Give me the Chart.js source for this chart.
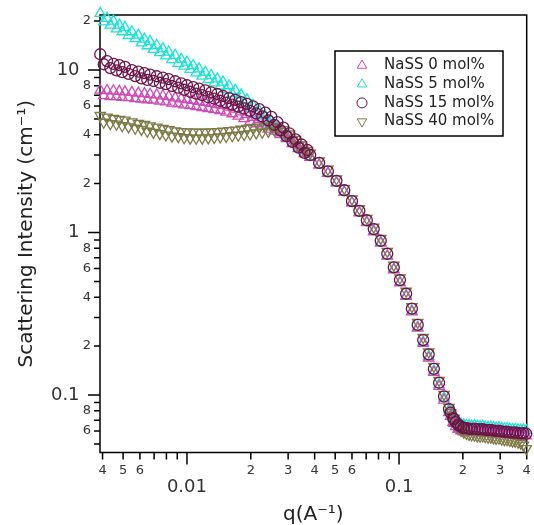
<!DOCTYPE html>
<html lang="en">
<head>
<meta charset="UTF-8">
<title>SANS intensity</title>
<script src="https://cdn.jsdelivr.net/npm/chart.js"></script>
<style>
  html, body { margin: 0; padding: 0; background: #fff; }
  #wrap { width: 534px; height: 525px; }
</style>
</head>
<body>
<div id="wrap"><canvas id="sans" width="534" height="525"></canvas></div>
<script>
// q values (A^-1): low-q, mid-q and high-q detector ranges
const q = [
  0.0039, 0.00405, 0.0042, 0.00435, 0.0045, 0.00465, 0.0048, 0.00495, 0.0051, 0.0053,
  0.0055, 0.0057, 0.0059, 0.0061, 0.0063, 0.0065, 0.0067, 0.00695, 0.0072, 0.00745,
  0.0077, 0.00795, 0.0082, 0.0085, 0.0088, 0.0091, 0.0094, 0.0097, 0.0100, 0.01035,
  0.0107, 0.01105, 0.0114, 0.0118, 0.0122, 0.0126, 0.0130, 0.01345, 0.0139, 0.01435,
  0.0148, 0.0153, 0.0158, 0.01635, 0.0169, 0.01745, 0.0180, 0.0186, 0.0192, 0.01985,
  0.0205, 0.0212, 0.0219, 0.02265, 0.0234, 0.0242, 0.0250, 0.02585, 0.0267, 0.0276,
  0.0285, 0.02945, 0.0304, 0.03145, 0.0325, 0.0336, 0.0347, 0.03585, 0.0370,
  0.0381, 0.0420, 0.0462, 0.0507, 0.0552, 0.0600, 0.0650, 0.0705, 0.0760, 0.0820,
  0.0880, 0.0945, 0.1010, 0.1080, 0.1150, 0.1225, 0.1300, 0.1380, 0.1460, 0.1545,
  0.1630, 0.1720, 0.1815, 0.1910, 0.2010,
  0.175, 0.180, 0.185, 0.190, 0.196, 0.202, 0.208, 0.214, 0.220, 0.227,
  0.234, 0.241, 0.248, 0.255, 0.263, 0.271, 0.279, 0.287, 0.296, 0.305,
  0.314, 0.323, 0.333, 0.343, 0.353, 0.364, 0.375, 0.386, 0.398
];

const nass0 = [
  7.51, 6.96, 7.48, 6.85, 7.45, 6.86, 7.39, 6.78, 7.34, 6.76,
  7.28, 6.67, 7.21, 6.63, 7.16, 6.56, 7.09, 6.53, 7.03, 6.44,
  6.94, 6.36, 6.85, 6.26, 6.74, 6.18, 6.65, 6.11, 6.57, 6.03,
  6.5, 5.95, 6.42, 5.88, 6.32, 5.79, 6.23, 5.71, 6.13, 5.62,
  6.03, 5.51, 5.91, 5.38, 5.74, 5.2, 5.53, 5.02, 5.34, 4.82,
  5.12, 4.67, 4.97, 4.5, 4.78, 4.33, 4.53, 4.21, 4.33, 4.01,
  4.1, 3.78, 3.84, 3.52, 3.57, 3.28, 3.33, 3.05, 3.1,
  2.9, 2.6, 2.31, 2.02, 1.77, 1.52, 1.32, 1.15, 1.01, 0.86,
  0.715, 0.59, 0.49, 0.405, 0.325, 0.258, 0.208, 0.169, 0.138, 0.113,
  0.093, 0.078, 0.067, 0.062, 0.0595,
  0.074, 0.068, 0.064, 0.0618, 0.0603, 0.0596, 0.0592, 0.059, 0.0589, 0.0592,
  0.0588, 0.0586, 0.059, 0.0584, 0.0582, 0.0585, 0.0579, 0.0577, 0.0579, 0.0574,
  0.0572, 0.0574, 0.0569, 0.0567, 0.0569, 0.0564, 0.0562, 0.0564, 0.056
];

const nass5 = [
  22.3, 19.8, 20.8, 18.9, 20.0, 17.9, 18.9, 17.2, 18.3, 16.3,
  17.2, 15.6, 16.4, 14.7, 15.5, 14.1, 15.0, 13.4, 14.2, 12.8,
  13.5, 12.2, 12.9, 11.6, 12.3, 11.0, 11.65, 10.56, 11.18, 10.08,
  10.66, 9.6, 10.17, 9.17, 9.69, 8.74, 9.26, 8.33, 8.82, 7.97,
  8.42, 7.58, 8.0, 7.15, 7.49, 6.7, 7.03, 6.26, 6.55, 5.81,
  6.06, 5.38, 5.61, 4.97, 5.2, 4.65, 4.82, 4.44, 4.51, 4.14,
  4.2, 3.85, 3.9, 3.56, 3.59, 3.3, 3.35, 3.07, 3.11,
  2.93, 2.62, 2.33, 2.03, 1.78, 1.53, 1.33, 1.16, 1.02, 0.87,
  0.72, 0.595, 0.495, 0.41, 0.33, 0.262, 0.212, 0.173, 0.141, 0.116,
  0.096, 0.081, 0.071, 0.066, 0.064,
  0.081, 0.075, 0.071, 0.069, 0.0665, 0.0655, 0.065, 0.0646, 0.0644, 0.0648,
  0.0641, 0.0639, 0.0643, 0.0636, 0.0633, 0.0636, 0.063, 0.0627, 0.0629, 0.0623,
  0.062, 0.0622, 0.0617, 0.0614, 0.0616, 0.0611, 0.0608, 0.061, 0.0605
];

const nass15 = [
  12.5, 10.85, 11.35, 10.27, 10.92, 9.94, 10.71, 9.7, 10.45, 9.46,
  9.98, 9.17, 9.78, 8.88, 9.57, 8.69, 9.36, 8.56, 9.15, 8.35,
  8.98, 8.18, 8.79, 7.97, 8.53, 7.78, 8.27, 7.56, 8.06, 7.35,
  7.85, 7.15, 7.68, 7.01, 7.49, 6.8, 7.28, 6.66, 7.12, 6.47,
  6.92, 6.3, 6.71, 6.12, 6.55, 5.95, 6.34, 5.8, 6.19, 5.61,
  5.98, 5.41, 5.74, 5.18, 5.46, 4.9, 5.15, 4.59, 4.78, 4.25,
  4.42, 3.92, 4.08, 3.61, 3.74, 3.33, 3.48, 3.09, 3.22,
  3.0, 2.68, 2.38, 2.08, 1.82, 1.56, 1.36, 1.19, 1.05, 0.89,
  0.74, 0.61, 0.51, 0.42, 0.34, 0.27, 0.218, 0.178, 0.145, 0.119,
  0.098, 0.082, 0.071, 0.065, 0.0625,
  0.078, 0.072, 0.068, 0.066, 0.064, 0.063, 0.0625, 0.062, 0.0618, 0.0621,
  0.0616, 0.0614, 0.0617, 0.0611, 0.0608, 0.0610, 0.0604, 0.0601, 0.0603, 0.0597,
  0.0594, 0.0596, 0.059, 0.0587, 0.0589, 0.0584, 0.0581, 0.0583, 0.0578
];

const nass40 = [
  5.25, 4.77, 5.13, 4.68, 5.04, 4.64, 4.97, 4.54, 4.91, 4.47,
  4.8, 4.38, 4.7, 4.31, 4.62, 4.2, 4.53, 4.13, 4.45, 4.06,
  4.37, 3.98, 4.3, 3.92, 4.22, 3.89, 4.18, 3.83, 4.16, 3.81,
  4.15, 3.8, 4.14, 3.81, 4.15, 3.82, 4.16, 3.84, 4.18, 3.87,
  4.21, 3.9, 4.24, 3.94, 4.27, 3.97, 4.32, 4.01, 4.37, 4.04,
  4.41, 4.1, 4.45, 4.14, 4.5, 4.19, 4.49, 4.26, 4.46, 4.19,
  4.3, 3.98, 4.05, 3.71, 3.74, 3.41, 3.46, 3.17, 3.2,
  3.08, 2.76, 2.45, 2.14, 1.87, 1.61, 1.4, 1.22, 1.08, 0.92,
  0.765, 0.63, 0.525, 0.435, 0.35, 0.28, 0.226, 0.184, 0.15, 0.123,
  0.101, 0.084, 0.072, 0.065, 0.061,
  0.078, 0.071, 0.066, 0.063, 0.0605, 0.059, 0.058, 0.0572, 0.0568, 0.0566,
  0.0561, 0.0558, 0.056, 0.0554, 0.055, 0.0551, 0.0545, 0.0541, 0.0542, 0.0536,
  0.0532, 0.0531, 0.0526, 0.052, 0.0519, 0.0512, 0.0505, 0.0492, 0.0468
];

const xTicks = [0.004, 0.005, 0.006, 0.007, 0.008, 0.009, 0.01, 0.02, 0.03, 0.04,
                0.05, 0.06, 0.07, 0.08, 0.09, 0.1, 0.2, 0.3, 0.4];
const xTickLabels = ['4', '5', '6', '', '', '', '0.01', '2', '3', '4',
                     '5', '6', '', '', '', '0.1', '2', '3', '4'];
const yTicks = [0.05, 0.06, 0.07, 0.08, 0.09, 0.1, 0.2, 0.3, 0.4, 0.5, 0.6, 0.7, 0.8, 0.9,
                1, 2, 3, 4, 5, 6, 7, 8, 9, 10, 20];
const yTickLabels = ['', '6', '', '8', '', '0.1', '2', '', '4', '', '6', '', '8', '',
                     '1', '2', '', '4', '', '6', '', '8', '', '10', '2'];

const FONT = '"DejaVu Sans", sans-serif';
const isDecade = v => Math.abs(Math.log10(v) - Math.round(Math.log10(v))) < 1e-9;
const pts = arr => arr.map((v, i) => ({x: q[i], y: v}));

// frame + tick marks (majors longer)
const frameTicks = {
  id: 'frameTicks',
  beforeDatasetsDraw(chart) {
    const {ctx, chartArea: a, scales: {x, y}} = chart;
    ctx.save();
    ctx.strokeStyle = '#000';
    ctx.lineWidth = 1.5;
    ctx.strokeRect(a.left, a.top, a.right - a.left, a.bottom - a.top);
    ctx.beginPath();
    x.ticks.forEach(t => {
      const px = x.getPixelForValue(t.value);
      ctx.moveTo(px, a.bottom);
      ctx.lineTo(px, a.bottom + (t.major ? 12 : 7));
    });
    y.ticks.forEach(t => {
      const py = y.getPixelForValue(t.value);
      ctx.moveTo(a.left, py);
      ctx.lineTo(a.left - (t.major ? 12 : 6), py);
    });
    ctx.stroke();
    ctx.restore();
  }
};

function marker(ctx, style, rot, x, y, r, color) {
  ctx.strokeStyle = color;
  ctx.lineWidth = 1;
  ctx.beginPath();
  if (style === 'circle') {
    ctx.arc(x, y, r, 0, Math.PI * 2);
  } else {
    let rad = rot * Math.PI / 180;
    for (let k = 0; k < 3; k++) {
      const px = x + Math.sin(rad) * r, py = y - Math.cos(rad) * r;
      if (k === 0) ctx.moveTo(px, py); else ctx.lineTo(px, py);
      rad += 2 * Math.PI / 3;
    }
    ctx.closePath();
  }
  ctx.stroke();
}

const boxLegend = {
  id: 'boxLegend',
  afterDatasetsDraw(chart) {
    const ctx = chart.ctx;
    const left = 335, top = 51, w = 168, h = 85;
    ctx.save();
    ctx.fillStyle = '#fff';
    ctx.fillRect(left, top, w, h);
    ctx.strokeStyle = '#000';
    ctx.lineWidth = 1.5;
    ctx.strokeRect(left, top, w, h);
    ctx.font = '15px ' + FONT;
    ctx.textBaseline = 'middle';
    chart.data.datasets.forEach((ds, i) => {
      const cy = 65.5 + i * 18.7;
      marker(ctx, ds.pointStyle, ds.pointRotation || 0, 362, cy, ds.pointStyle === 'circle' ? 5 : 5.5, ds.borderColor);
      ctx.fillStyle = '#222';
      ctx.fillText(ds.label, 384, cy);
    });
    ctx.restore();
  }
};

const tickFont = ctx => (ctx.tick && ctx.tick.major)
  ? {family: FONT, size: 18, lineHeight: 0.92}
  : {family: FONT, size: 13};

new Chart(document.getElementById('sans'), {
  type: 'scatter',
  data: {
    datasets: [
      {label: 'NaSS 0 mol%', data: pts(nass0), pointStyle: 'triangle', pointRadius: 6,
       borderColor: '#cf4cb6', backgroundColor: 'rgba(0,0,0,0)', pointBorderWidth: 1.3, order: 3, clip: false},
      {label: 'NaSS 5 mol%', data: pts(nass5), pointStyle: 'triangle', pointRadius: 6,
       borderColor: '#1fe3d3', backgroundColor: 'rgba(0,0,0,0)', pointBorderWidth: 1.3, order: 4, clip: false},
      {label: 'NaSS 15 mol%', data: pts(nass15), pointStyle: 'circle', pointRadius: 5.5,
       borderColor: '#6a1448', backgroundColor: 'rgba(0,0,0,0)', pointBorderWidth: 1.3, order: 1, clip: false},
      {label: 'NaSS 40 mol%', data: pts(nass40), pointStyle: 'triangle', pointRotation: 180, pointRadius: 6,
       borderColor: '#7d7a46', backgroundColor: 'rgba(0,0,0,0)', pointBorderWidth: 1.3, order: 2, clip: false}
    ]
  },
  options: {
    responsive: false,
    animation: false,
    devicePixelRatio: 1,
    layout: {padding: {top: 15, right: 1.5, left: 0, bottom: 0}},
    plugins: {legend: {display: false}, tooltip: {enabled: false}},
    scales: {
      x: {
        type: 'logarithmic',
        min: 0.00389,
        max: 0.4,
        afterBuildTicks: s => { s.ticks = xTicks.map(v => ({value: v, major: isDecade(v)})); },
        afterFit: s => { s.height = 72.5; s.paddingLeft = 0; s.paddingRight = 0; },
        grid: {display: false, drawTicks: false},
        border: {display: false},
        ticks: {
          autoSkip: false, maxRotation: 0, padding: 10, color: '#333', font: tickFont,
          callback: (v, i) => {
            const lab = xTickLabels[i];
            return isDecade(xTicks[i]) ? ['', lab] : lab;
          }
        },
        title: {display: true, text: 'q(A\u207B\u00B9)', color: '#222',
                font: {family: FONT, size: 20}, padding: {top: 0, bottom: -2}}
      },
      y: {
        type: 'logarithmic',
        min: 0.0443,
        max: 21.8,
        afterBuildTicks: s => { s.ticks = yTicks.map(v => ({value: v, major: isDecade(v)})); },
        afterFit: s => { s.width = 100; s.paddingTop = 0; s.paddingBottom = 0; },
        grid: {display: false, drawTicks: false},
        border: {display: false},
        ticks: {
          autoSkip: false, padding: 9, color: '#333', font: tickFont,
          callback: (v, i) => isDecade(yTicks[i]) ? yTickLabels[i] + '  ' : yTickLabels[i]
        },
        title: {display: true, text: 'Scattering Intensity (cm\u207B\u00B9)', color: '#222',
                font: {family: FONT, size: 20}, padding: {top: 15, bottom: 0}}
      }
    }
  },
  plugins: [frameTicks, boxLegend]
});
</script>
</body>
</html>
